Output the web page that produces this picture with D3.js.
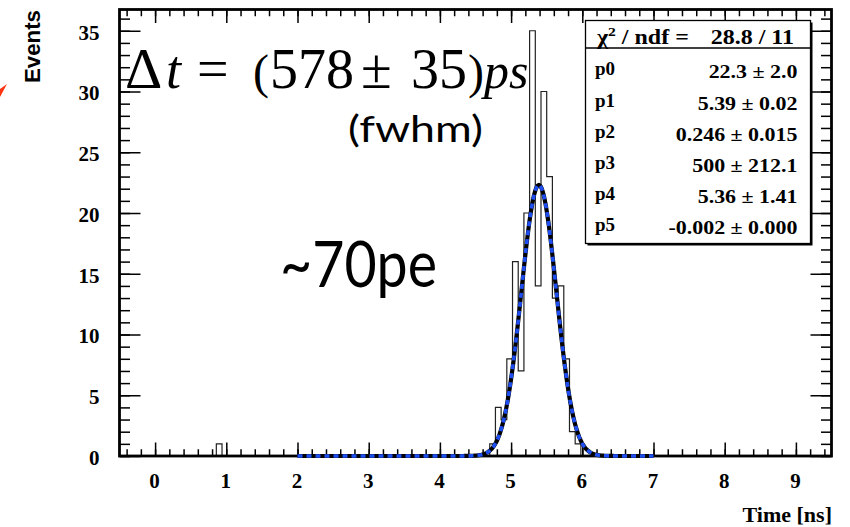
<!DOCTYPE html>
<html><head><meta charset="utf-8">
<script src="https://cdn.jsdelivr.net/npm/d3@7"></script>
<style>body{margin:0;background:#fff} svg{display:block}</style>
</head><body>
<svg id="c" width="850" height="527"></svg>
<script>
// ---- data ----
const binWidth = 0.08;
const histRange = [-0.5, 9.5];
const binLow = [0.86, 4.70, 4.78, 4.86, 4.94, 5.02, 5.10, 5.18, 5.26, 5.34, 5.42, 5.50, 5.58, 5.66, 5.74, 5.82, 5.90];
const counts = [1, 1, 4, 3, 8, 16, 7, 20, 35, 14, 30, 23, 13, 14, 8, 2, 1];
const xTicks = [0, 1, 2, 3, 4, 5, 6, 7, 8, 9];
const yTicks = [0, 5, 10, 15, 20, 25, 30, 35];
const yMax = 36.75;
const fitNames = ["p0", "p1", "p2", "p3", "p4", "p5"];
const fitValues = ["22.3 ± 2.0", "5.39 ± 0.02", "0.246 ± 0.015", "500 ± 212.1", "5.36 ± 1.41", "-0.002 ± 0.000"];
const gausParams = [22.3, 5.39, 0.246];
const fitRange = [2, 7];
const chi2Value = "28.8 / 11";

// ---- layout ----
const svg = d3.select("#c");
const L = 119.5, R = 831.5, T = 9.5, B = 456;
const x = d3.scaleLinear().domain(histRange).range([L, R]);
const y = d3.scaleLinear().domain([0, yMax]).range([B, T]);
const serif = "'Liberation Serif','Times New Roman',serif";
const sans = "'Liberation Sans',Arial,sans-serif";

svg.append("clipPath").attr("id", "fr").append("rect")
  .attr("x", L).attr("y", T).attr("width", R - L).attr("height", B - T + 3);

// histogram step path
const nb = Math.round((histRange[1] - histRange[0]) / binWidth);
const full = new Array(nb).fill(0);
binLow.forEach((lo, i) => { full[Math.round((lo - histRange[0]) / binWidth)] = counts[i]; });
let pts = [[histRange[0], 0]];
full.forEach((c, k) => {
  const lo = histRange[0] + k * binWidth;
  pts.push([lo, c], [lo + binWidth, c]);
});
pts.push([histRange[1], 0]);
svg.append("path")
  .attr("d", d3.line().x(d => x(d[0])).y(d => y(d[1]))(pts))
  .attr("fill", "none").attr("stroke", "#222").attr("stroke-width", 1.2);

// axes
function minors(step, lo, hi) { return d3.range(Math.ceil(lo / step - 1e-9), Math.floor(hi / step + 1e-9) + 1).map(i => +(i * step).toFixed(4)); }
const xMinor = minors(0.2, histRange[0], histRange[1]);
const yMinor = minors(1, 0, yMax);
const tickStyle = g => { g.select(".domain").remove(); g.selectAll("line").attr("stroke", "#000").attr("stroke-width", 1.5); };

const xb = svg.append("g").attr("transform", `translate(0,${B})`);
xb.append("g").call(d3.axisBottom(x).tickValues(xMinor).tickSize(-6.75).tickFormat("")).call(tickStyle);
const xbm = xb.append("g").call(d3.axisBottom(x).tickValues(xTicks).tickSize(-13.5).tickPadding(17).tickFormat(d3.format("d"))).call(tickStyle);
xbm.selectAll("text").attr("font-family", serif).attr("font-weight", "bold").attr("font-size", 21).attr("fill", "#000").attr("dx", "-1");

const xt = svg.append("g").attr("transform", `translate(0,${T})`);
xt.append("g").call(d3.axisTop(x).tickValues(xMinor).tickSize(-6.75).tickFormat("")).call(tickStyle);
xt.append("g").call(d3.axisTop(x).tickValues(xTicks).tickSize(-13.5).tickFormat("")).call(tickStyle);

const yl = svg.append("g").attr("transform", `translate(${L},0)`);
yl.append("g").call(d3.axisLeft(y).tickValues(yMinor).tickSize(-10.5).tickFormat("")).call(tickStyle);
const ylm = yl.append("g").call(d3.axisLeft(y).tickValues(yTicks).tickSize(-21).tickPadding(20).tickFormat(d3.format("d"))).call(tickStyle);
ylm.selectAll("text").attr("font-family", serif).attr("font-weight", "bold").attr("font-size", 21).attr("fill", "#000").attr("dy", "0.4em");

const yr = svg.append("g").attr("transform", `translate(${R},0)`);
yr.append("g").call(d3.axisRight(y).tickValues(yMinor).tickSize(-10.5).tickFormat("")).call(tickStyle);
yr.append("g").call(d3.axisRight(y).tickValues(yTicks).tickSize(-21).tickFormat("")).call(tickStyle);

// frame
svg.append("rect").attr("x", L).attr("y", T).attr("width", R - L).attr("height", B - T)
  .attr("fill", "none").attr("stroke", "#000").attr("stroke-width", 2.8);

// fit curve (drawn over the frame, as in the reference)
const [A, mu, sg] = gausParams;
const fpts = d3.range(fitRange[0], fitRange[1] + 1e-9, 0.01).map(t => [t, A * Math.exp(-0.5 * ((t - mu) / sg) ** 2)]);
const fl = d3.line().x(d => x(d[0])).y(d => y(d[1]));
const gFit = svg.append("g").attr("clip-path", "url(#fr)");
gFit.append("path").attr("d", fl(fpts)).attr("fill", "none").attr("stroke", "#000").attr("stroke-width", 4.2);
gFit.append("path").attr("d", fl(fpts)).attr("fill", "none").attr("stroke", "#1f4ff0")
  .attr("stroke-width", 3.6).attr("stroke-dasharray", "5,4");

// axis titles
svg.append("text").attr("transform", "translate(40,10) rotate(-90)").attr("text-anchor", "end")
  .attr("font-family", sans).attr("font-weight", "bold").attr("font-size", 22).attr("textLength", 73)
  .attr("lengthAdjust", "spacingAndGlyphs").text("Events");
svg.append("text").attr("x", 832).attr("y", 521.5).attr("text-anchor", "end")
  .attr("font-family", serif).attr("font-weight", "bold").attr("font-size", 22).text("Time [ns]");

// red mark at left edge
svg.append("path").attr("d", "M0,89 L7,84 L0,97 Z").attr("fill", "#ff3310");

// stats box
const bx = 585.5, by = 20.5, bw = 225, bh = 223;
svg.append("rect").attr("x", bx + 2).attr("y", by + 2).attr("width", bw).attr("height", bh).attr("fill", "#000");
svg.append("rect").attr("x", bx).attr("y", by).attr("width", bw).attr("height", bh).attr("fill", "#fff")
  .attr("stroke", "#000").attr("stroke-width", 1.3);
svg.append("line").attr("x1", bx).attr("x2", bx + bw).attr("y1", 48).attr("y2", 48).attr("stroke", "#000").attr("stroke-width", 1.3);
const hdr = svg.append("text").attr("transform", "translate(597,43.5) scale(1.2,1)")
  .attr("font-family", serif).attr("font-weight", "bold").attr("font-size", 20);
hdr.append("tspan").text("χ");
hdr.append("tspan").attr("dy", -8).attr("font-size", 13).text("2");
hdr.append("tspan").attr("dy", 8).text(" / ndf =");
svg.append("text").attr("transform", "translate(794,43.5) scale(1.2,1)").attr("text-anchor", "end")
  .attr("font-family", serif).attr("font-weight", "bold").attr("font-size", 20).text(chi2Value);
fitNames.forEach((n, i) => {
  const yb = 78.3 + 31.2 * i;
  svg.append("text").attr("x", 595).attr("y", yb - 3).attr("font-family", serif).attr("font-weight", "bold")
    .attr("font-size", 19).text(n);
  svg.append("text").attr("transform", `translate(797.5,${yb}) scale(1.22,1)`).attr("text-anchor", "end")
    .attr("font-family", serif).attr("font-weight", "bold").attr("font-size", 18).text(fitValues[i]);
});

// annotations
const ann = svg.append("text").attr("y", 88).attr("font-family", serif).attr("fill", "#000");
[["Δ", 125, "normal", 58], ["t", 166, "italic", 54], ["=", 197, "normal", 56], ["(", 253, "normal", 48],
 ["578", 270, "normal", 56], ["±", 361, "normal", 56], ["35", 411, "normal", 56], [")", 468, "normal", 48],
 ["ps", 484, "italic", 50]]
  .forEach(([s, xx, st, fs]) => ann.append("tspan").attr("x", xx).attr("font-style", st).attr("font-size", fs).text(s));
svg.append("text").attr("x", 348).attr("y", 142).attr("font-family", "Lato, sans-serif").attr("font-size", 36)
  .attr("textLength", 135).attr("lengthAdjust", "spacingAndGlyphs").text("(fwhm)");
svg.append("text").attr("x", 280).attr("y", 287).attr("font-family", "Lato, sans-serif").attr("font-size", 64)
  .attr("textLength", 157).attr("lengthAdjust", "spacingAndGlyphs").text("~70pe");
</script>
</body></html>
